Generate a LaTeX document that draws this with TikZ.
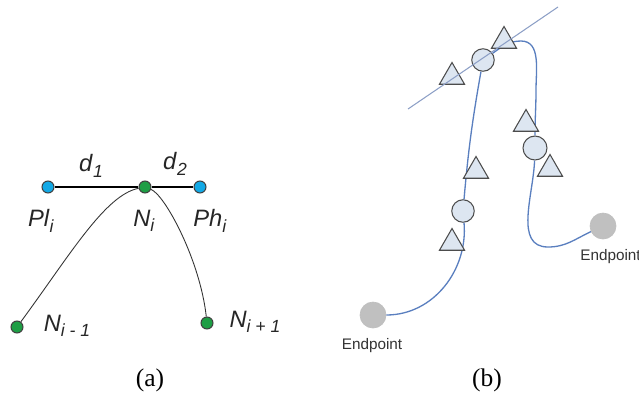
\documentclass[tikz,border=0pt]{standalone}
\usepackage{fontspec}
\setmainfont{Liberation Serif}
\setsansfont{Liberation Sans}
\usepackage{xcolor}
\usepackage{tikz}
\usetikzlibrary{shapes.geometric}

\definecolor{dotcyan}{HTML}{12A9E6}
\definecolor{dotgreen}{HTML}{1E9E45}
\definecolor{curveblue}{HTML}{5A7FBF}
\definecolor{cutline}{HTML}{8C9FC6}
\definecolor{markfill}{HTML}{DDE6F1}
\definecolor{endgray}{HTML}{C0C0C0}

\newcommand{\sublab}[2]{\textit{#1}\raisebox{-0.45ex}{\fontsize{10}{10}\selectfont\textit{#2}}}

\begin{document}
\begin{tikzpicture}[x=0.02cm, y=-0.02cm,
  dot/.style={circle, draw=black!75, line width=0.6pt, inner sep=0pt, minimum size=0.24cm},
  plab/.style={font=\sffamily\fontsize{13.5}{14}\selectfont, text=black!85, inner sep=0pt},
  tri/.style={regular polygon, regular polygon sides=3, draw=black!70, line width=0.6pt, fill=markfill, inner sep=0pt, minimum size=0.58cm},
  ring/.style={circle, draw=black!70, line width=0.6pt, fill=markfill, inner sep=0pt, minimum size=0.45cm},
  endpt/.style={circle, draw=black!25, fill=endgray, inner sep=0pt, minimum size=0.52cm},
  eplab/.style={font=\sffamily\fontsize{8.7}{9}\selectfont, text=black!80, inner sep=0pt},
  curve/.style={draw=curveblue, line width=0.75pt},
  sublabel/.style={font=\fontsize{14.5}{15}\selectfont, inner sep=0pt}]
\useasboundingbox (0,0) rectangle (639,400);

% (a)
\node[dot, fill=dotcyan] (pl) at (48,187) {};
\node[dot, fill=dotgreen] (ni) at (145,187) {};
\node[dot, fill=dotcyan] (ph) at (200,187) {};
\node[dot, fill=dotgreen] (nm) at (17,327) {};
\node[dot, fill=dotgreen] (np) at (207,323) {};

\draw[line width=0.8pt] (pl) -- (ni) -- (ph);
\draw[line width=0.5pt, black!80] (nm) .. controls (70,255) and (105,195) .. (ni);
\draw[line width=0.5pt, black!80] (ni) .. controls (165,195) and (200,260) .. (np);

\node[plab] (d1) at (91,166) {\sublab{d}{1}};
\node[plab] (d2) at (175,164) {\sublab{d}{2}};
\node[plab] (lpl) at (41,221) {\sublab{Pl}{i}};
\node[plab] (lni) at (144,221) {\sublab{N}{i}};
\node[plab] (lph) at (210,221) {\sublab{Ph}{i}};
\node[plab] (lnm) at (67,326) {\sublab{N}{i - 1}};
\node[plab] (lnp) at (255,322) {\sublab{N}{i + 1}};

% (b)
\node[endpt] (ep1) at (373,315) {};
\node[endpt] (ep2) at (603,226) {};
\node[ring] (c1) at (463,211) {};
\node[ring] (c2) at (483,60) {};
\node[ring, minimum size=0.48cm] (c3) at (535,148) {};
\coordinate (b1) at (521,41);
\coordinate (b2) at (536,90);
\coordinate (b3) at (548,247);

\draw[curve] (ep1) to[out=0,in=-85] (c1);
\draw[curve] (c1) to[out=85,in=-100] (c2);
\draw[curve] (c2) to[out=35,in=180] (b1) to[out=0,in=90] (b2) to[out=-90,in=90] (c3);
\draw[curve] (c3) to[out=-92,in=180] (b3) to[out=0,in=205] (ep2);

\node[tri] (t1) at (452,77) {};
\node[tri] (t2) at (504,41) {};
\node[tri] (t3) at (476,171) {};
\node[tri] (t4) at (526,124) {};
\node[tri] (t5) at (550,169) {};
\node[tri] (t6) at (452,243) {};

\coordinate (l1) at (408,109);
\coordinate (l2) at (558,7);
\draw[cutline, line width=0.6pt] (l1) -- (l2);

\node[eplab] (le1) at (372,346) {Endpoint};
\node[eplab, anchor=west] (le2) at (580,257) {Endpoint};

\node[sublabel] (capa) at (150,380) {(a)};
\node[sublabel] (capb) at (487,380) {(b)};
\end{tikzpicture}
\end{document}
